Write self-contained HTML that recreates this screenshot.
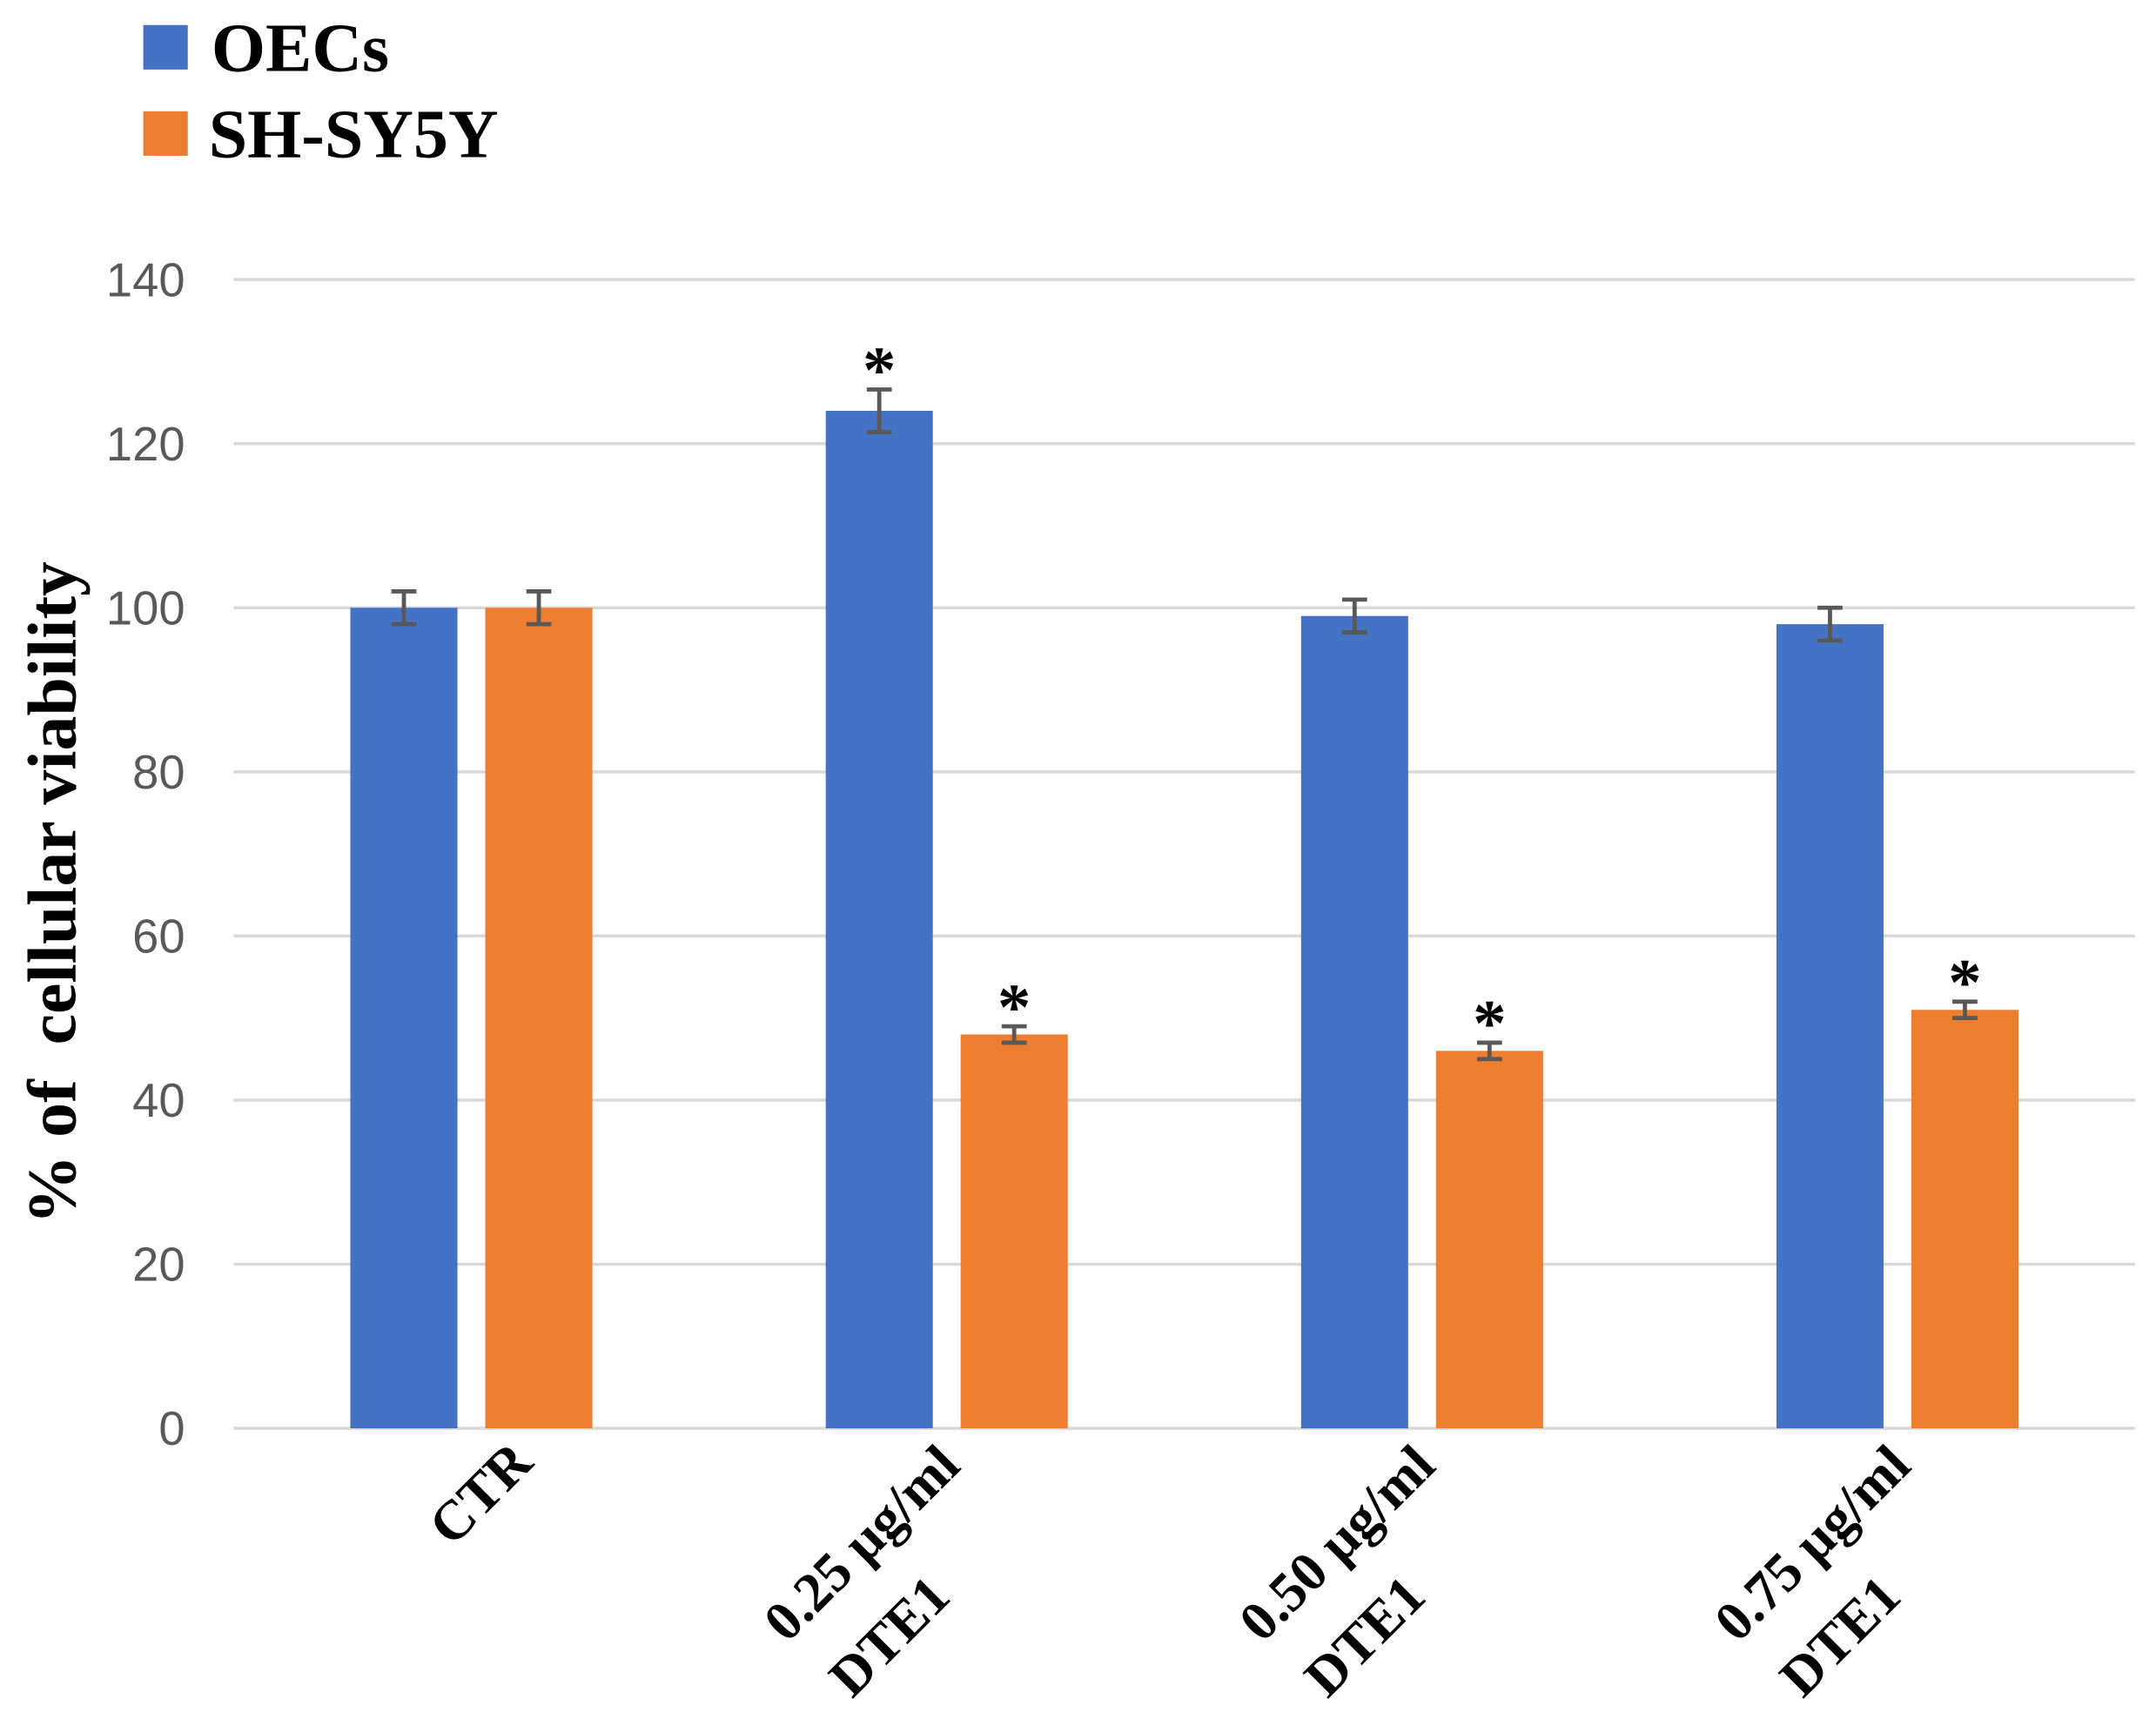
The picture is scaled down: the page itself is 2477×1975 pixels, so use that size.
<!DOCTYPE html>
<html><head><meta charset="utf-8"><style>
html,body{margin:0;padding:0;background:#fff;}
svg{display:block;}
</style></head><body>
<svg id="chart" width="2477" height="1975" viewBox="0 0 1550 1236" preserveAspectRatio="none" xmlns="http://www.w3.org/2000/svg">
<rect width="1550" height="1236" fill="#fff"/>
<g>
  <rect x="103" y="18" width="32" height="32" fill="#4472C4"/>
  <text x="152" y="51" font-family="Liberation Serif, serif" font-weight="bold" font-size="50">OECs</text>
  <rect x="103" y="80" width="32" height="32" fill="#ED7D31"/>
  <text x="150" y="113" font-family="Liberation Serif, serif" font-weight="bold" font-size="50">SH-SY5Y</text>
</g>
<text transform="translate(54,642) rotate(-90)" text-anchor="middle" font-family="Liberation Serif, serif" font-weight="bold" font-size="50" xml:space="preserve">% of  cellular viability</text>
<g id="grid"></g>
<g id="bars"></g>
<g id="xlabels"></g>
</svg>
<script>
const categories = [["CTR"], ["0.25 µg/ml","DTE1"], ["0.50 µg/ml","DTE1"], ["0.75 µg/ml","DTE1"]];
const oecValues = [100, 124, 99, 98];
const oecErrors = [2, 2.6, 2, 2];
const shValues = [100, 48, 46, 51];
const shErrors = [2, 1, 1, 1];
const oecStars = [false, true, false, false];
const shStars = [false, true, true, true];
const yTicks = [0, 20, 40, 60, 80, 100, 120, 140];

const NS = "http://www.w3.org/2000/svg";
const plotL = 168, plotR = 1535, y0 = 1027, y140 = 201;
function yScale(v){ return y0 - (v/140)*(y0 - y140); }
const band = (plotR - plotL) / categories.length;
function xCenter(i){ return plotL + band*(i+0.5); }
function mk(tag, attrs, parent){
  const e = document.createElementNS(NS, tag);
  for (const k in attrs) e.setAttribute(k, attrs[k]);
  parent.appendChild(e); return e;
}
const grid = document.getElementById('grid');
yTicks.forEach(t => {
  const y = yScale(t);
  const l = mk('line', {x1: plotL, x2: plotR, y1: y, y2: y, stroke: '#d9d9d9', 'stroke-width': 2.2}, grid);
  
  
  const tx = mk('text', {x: 133, y: y + 12, 'text-anchor': 'end', 'font-family': 'Liberation Sans, sans-serif', 'font-size': 34, fill: '#595959'}, grid);
  tx.textContent = t;
  
  
});
const bars = document.getElementById('bars');
const bw = 77, gap = 20;
function drawBar(i, v, err, star, color, offset, series){
  const x = xCenter(i) + offset;
  const r = mk('rect', {x: x, y: yScale(v), width: bw, height: yScale(0) - yScale(v), fill: color}, bars);
  
  
  const cx = x + bw/2, top = yScale(v + err), bot = yScale(v - err);
  const g = mk('g', {stroke: '#595959', 'stroke-width': 3}, bars);
  
  
  mk('line', {x1: cx, x2: cx, y1: top, y2: bot}, g);
  mk('line', {x1: cx-9, x2: cx+9, y1: top, y2: top}, g);
  mk('line', {x1: cx-9, x2: cx+9, y1: bot, y2: bot}, g);
  if (star) {
    const s = mk('text', {x: cx, y: top + 2, 'text-anchor': 'middle', 'font-family': 'Liberation Serif, serif', 'font-weight': 'bold', 'font-size': 48}, bars);
    s.textContent = '*';
    
    
  }
}
categories.forEach((c, i) => {
  drawBar(i, oecValues[i], oecErrors[i], oecStars[i], '#4472C4', -gap/2 - bw, 'oecs');
  drawBar(i, shValues[i], shErrors[i], shStars[i], '#ED7D31', gap/2, 'shsy5y');
});
const xl = document.getElementById('xlabels');
categories.forEach((c, i) => {
  const cx = xCenter(i);
  c.forEach((line, j) => {
    let sx, sy;
    if (c.length === 1) { sx = cx - 14; sy = y0 + 86; }
    else { sx = cx - 115 + j*47; sy = y0 + 155 + j*40; }
    const t = mk('text', {transform: 'translate(' + sx + ',' + sy + ') rotate(-45)', 'font-family': 'Liberation Serif, serif', 'font-weight': 'bold', 'font-size': 40}, xl);
    t.textContent = line;
    
    
  });
});
</script>
</body></html>
